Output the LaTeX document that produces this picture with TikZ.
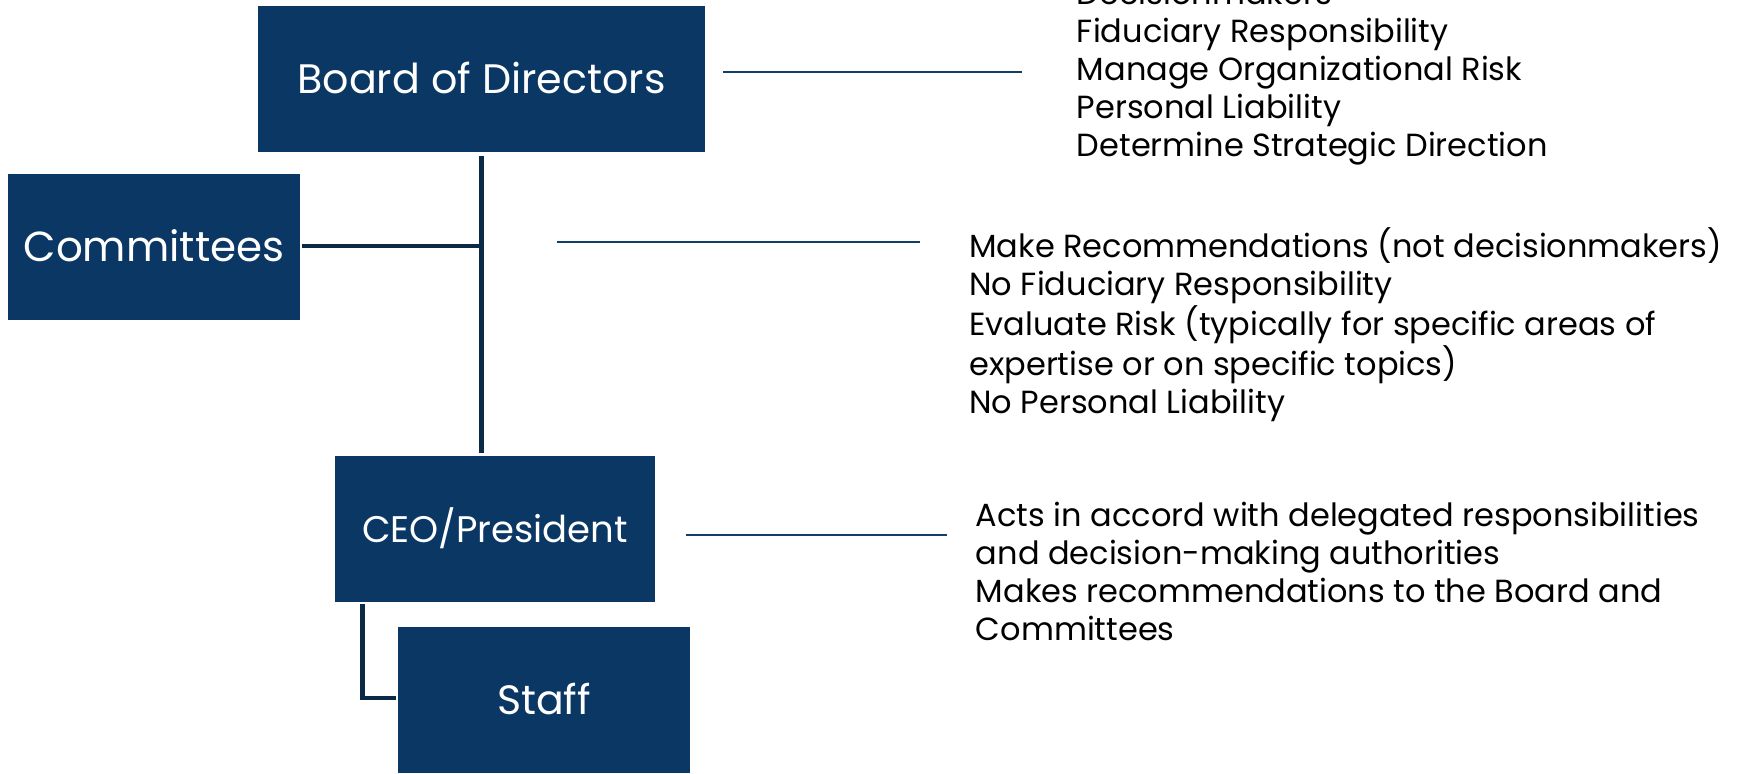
\documentclass[tikz,border=0pt]{standalone}
\usepackage{fontspec}
\setmainfont{Poppins}
\definecolor{boxblue}{HTML}{0A3764}
\definecolor{linkdark}{HTML}{0A2A45}
\definecolor{infoline}{HTML}{123F66}
\tikzset{
  orgbox/.style={fill=boxblue, draw=none, text=white, inner sep=0pt,
    minimum height=73pt, text depth=0pt},
  link/.style={draw=linkdark, line width=2.3pt},
  infolink/.style={draw=infoline, line width=1pt},
  infotext/.style={anchor=base west, inner sep=0pt, align=left, text=black,
    font=\fontsize{16pt}{19pt}\selectfont}
}
\begin{document}
\begin{tikzpicture}[x=0.5pt,y=-0.5pt]
\useasboundingbox (0,0) rectangle (1737,773);
% boxes
\node[orgbox, minimum width=223.5pt, font=\fontsize{20.6pt}{24pt}\selectfont, text height=14.4pt] (board) at (481.5,79.3) {Board of Directors};
\node[orgbox, minimum width=146pt, font=\fontsize{21pt}{25pt}\selectfont, text height=14.7pt] (comm) at (154,247) {Committees};
\node[orgbox, minimum width=160pt, font=\fontsize{18.5pt}{22pt}\selectfont, text height=13pt] (ceo) at (495,529) {CEO/President};
\node[orgbox, minimum width=146pt, font=\fontsize{20.5pt}{24pt}\selectfont, text height=14.4pt] (staff) at (544,700) {Staff};
% connectors
\draw[link] ([yshift=-1.5pt]board.south) -- ([yshift=1.5pt]board.south |- ceo.north);
\draw[link] ([xshift=1pt,yshift=0.5pt]comm.east) -- ([yshift=0.5pt]comm.east -| board.south);
\draw[link] ([xshift=14pt,yshift=-1pt]ceo.south west) |- ([xshift=-1pt,yshift=1pt]staff.west);
% info lines
\coordinate (b1) at (723,72);  \coordinate (b2) at (1022,72);
\coordinate (c1) at (557,241.5); \coordinate (c2) at (920,241.5);
\coordinate (e1) at (686,535); \coordinate (e2) at (947,535);
\draw[infolink] (b1) -- (b2);
\draw[infolink] (c1) -- (c2);
\draw[infolink] (e1) -- (e2);
% texts (anchored at the baseline of their last line)
\node[infotext] (boardinfo) at (1076.5,156.7) {Decisionmakers\\Fiduciary Responsibility\\Manage Organizational Risk\\Personal Liability\\Determine Strategic Direction};
\node[infotext] (comminfo) at (969,413.5) {Make Recommendations (not decisionmakers)\\No Fiduciary Responsibility\\Evaluate Risk (typically for specific areas of\\expertise or on specific topics)\\No Personal Liability};
\node[infotext] (ceoinfo) at (975.5,640.5) {Acts in accord with delegated responsibilities\\and decision-making authorities\\Makes recommendations to the Board and\\Committees};
\end{tikzpicture}
\end{document}
